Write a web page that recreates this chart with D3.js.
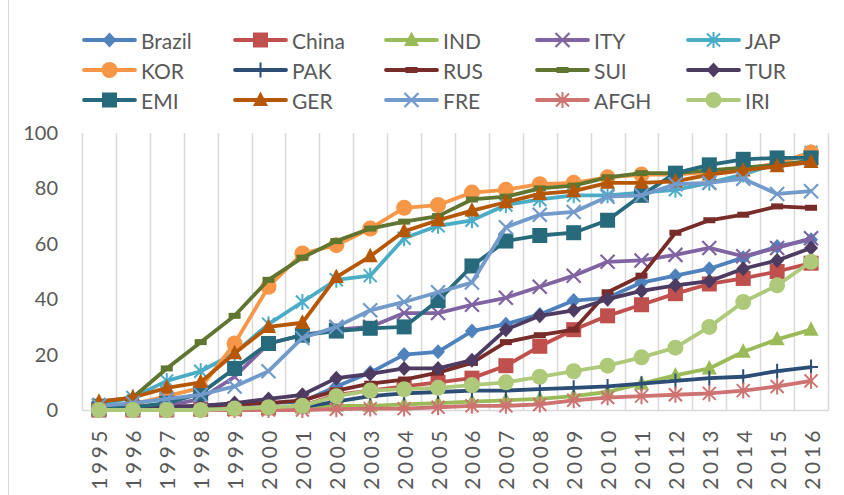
<!DOCTYPE html>
<html>
<head>
<meta charset="utf-8">
<script src="https://cdn.jsdelivr.net/npm/d3@7"></script>
<style>
  body { margin: 0; background: #fff; }
  svg { font-family: Lato, "Open Sans", sans-serif; }
</style>
</head>
<body>
<svg id="chart" width="844" height="495"></svg>
<script>
// Data
const years = ['1995','1996','1997','1998','1999','2000','2001','2002','2003','2004','2005',
               '2006','2007','2008','2009','2010','2011','2012','2013','2014','2015','2016'];
const yTicks = [0, 20, 40, 60, 80, 100];

const brazil = [0.5, 0.5, 1, 1.5, 2, 2.5, 3, 8.5, 13.5, 20, 21, 28.5, 31, 34.5, 39.5, 40.5, 46, 48.5, 51, 55, 59, 61.5];
const china  = [0, 0, 0, 0.3, 0.5, 0.8, 1.5, 5.5, 7, 8.5, 10, 11.5, 16, 23, 29, 34, 38, 42, 45.5, 47.5, 50, 53];
const ind    = [0, 0, 0, 0.5, 0.5, 1, 1, 1.5, 1.5, 2, 2.5, 3, 3.5, 4, 5, 6.5, 9.5, 12.5, 15, 21, 25.5, 29];
const ity    = [0, 0.5, 1.5, 4, 12, 24, 27, 29, 30, 35, 35, 38, 40.5, 44.5, 48.5, 53.5, 54, 56, 58.5, 55.5, 58.5, 62];
const jap    = [2, 4.5, 10.5, 14, 20.5, 31, 39, 47, 48.5, 62, 66.5, 68.5, 74, 76, 77.5, 77.5, 78.5, 79.5, 82, 85, 89, 93];
const kor    = [1, 2, 5, 8, 24, 44.5, 56.5, 59.5, 65.5, 73, 74, 78.5, 79.5, 81.5, 82, 84, 85, 85, 86, 87, 89, 93];
const pak    = [0, 0, 0, 0, 0.5, 0.5, 1, 3, 5, 6, 6.5, 7, 7, 7.5, 8, 8.5, 9.5, 10.5, 11.5, 12, 14, 15.5];
const rus    = [0, 0.5, 1, 1.5, 2, 2.5, 3.5, 7, 9.5, 11, 13.5, 17, 24.5, 27, 29, 42.5, 48.5, 64, 68.5, 70.5, 73.5, 73];
const sui    = [3, 4.5, 15, 24.5, 34, 47, 55, 61, 65.5, 68, 70, 76, 77, 80, 81, 84, 85.5, 85.5, 86.5, 87.5, 88.5, 90];
const tur    = [0, 0.5, 1, 1.5, 2.5, 4, 5.5, 11.5, 13, 15, 15, 18, 29, 34, 36, 40, 43, 45, 46.5, 51, 54, 58.5];
const emi    = [0.5, 1, 2.5, 6, 15, 24, 27, 28.5, 29.5, 30, 39.5, 52, 61, 63, 64, 68.5, 77.5, 85.5, 88.5, 90.5, 91, 91];
const ger    = [3, 4.5, 8, 10, 20.5, 30, 31.5, 48, 55.5, 64.5, 68.5, 72, 75, 78, 79, 82, 82, 82.5, 85, 86.5, 88, 89.5];
const fre    = [1.5, 2.5, 4, 5.5, 8.5, 14, 26, 30, 36, 39, 42.5, 46, 66, 70.5, 71.5, 77, 77.5, 81.5, 82, 83.5, 78, 79];
const afgh   = [0, 0, 0, 0, 0, 0, 0, 0.3, 0.5, 0.5, 1, 1.5, 1.5, 2, 3.5, 4.5, 5, 5.5, 6, 7, 8.5, 10.5];
const iri    = [0, 0, 0, 0, 0.5, 1, 1.5, 5, 7, 7.5, 8, 9, 10, 12, 14, 16, 19, 22.5, 30, 39, 45, 53.5];

const seriesNames = ['Brazil','China','IND','ITY','JAP','KOR','PAK','RUS','SUI','TUR','EMI','GER','FRE','AFGH','IRI'];
const seriesValues = [brazil, china, ind, ity, jap, kor, pak, rus, sui, tur, emi, ger, fre, afgh, iri];
const seriesColors = ['#4F81BD','#C0504D','#9BBB59','#8064A2','#4BACC6','#F79646','#2C4D75','#772C2A',
                      '#5F7530','#4D3B62','#276A7C','#B65708','#729ACA','#CD7371','#AFC97A'];
const seriesMarkers = ['diamond','square','triangle','x','star','circle','plus','dash',
                       'dash','diamond','square','triangle','x','star','circle'];

const series = seriesNames.map((name, i) => ({
    name, values: seriesValues[i], color: seriesColors[i], marker: seriesMarkers[i]
}));

const svg = d3.select('#chart');
const textColor = '#595959';

// Outer chart border (left edge visible)
svg.append('line')
    .attr('x1', 8.5).attr('x2', 8.5).attr('y1', 0).attr('y2', 495)
    .attr('stroke', '#d9d9d9').attr('stroke-width', 1);

// Scales
const xScale = d3.scaleBand().domain(years).range([82, 828]).padding(0);
const yScale = d3.scaleLinear().domain([0, 100]).range([410, 133]);
const xc = d => xScale(d) + xScale.bandwidth() / 2;

// Vertical gridlines at category boundaries
const bounds = years.map(d => xScale(d)).concat([828]);
svg.append('g')
    .selectAll('line')
    .data(bounds)
    .enter()
    .append('line')
    .attr('x1', d => Math.round(d) + 0.5)
    .attr('x2', d => Math.round(d) + 0.5)
    .attr('y1', yScale(100))
    .attr('y2', yScale(0))
    .attr('stroke', '#d9d9d9')
    .attr('stroke-width', 1.5);

// X axis
const xAxis = svg.append('g')
    .attr('transform', `translate(0, ${yScale(0)})`)
    .call(d3.axisBottom(xScale).tickSize(0).tickPadding(0));
xAxis.select('.domain').attr('stroke', '#d9d9d9').attr('stroke-width', 1.5);
xAxis.selectAll('.tick text')
    .attr('transform', 'rotate(-90)')
    .attr('text-anchor', 'end')
    .attr('dominant-baseline', 'central')
    .attr('x', -17)
    .attr('y', 0)
    .attr('dy', 0)
    .attr('fill', textColor)
    .style('font-size', '21px')
    .style('letter-spacing', '3.5px')
    .style('font-family', 'Lato, sans-serif');

// Y axis (labels only)
const yAxis = svg.append('g')
    .attr('transform', 'translate(58, 0)')
    .call(d3.axisLeft(yScale).tickValues(yTicks).tickSize(0).tickPadding(0));
yAxis.select('.domain').remove();
yAxis.selectAll('.tick text')
    .attr('fill', textColor)
    .style('font-size', '20px')
    .style('font-family', 'Lato, sans-serif');

// Marker drawing
function drawMarker(g, type, color) {
    switch (type) {
        case 'diamond':
            g.append('path').attr('d', 'M0,-7.5L7,0L0,7.5L-7,0Z').attr('fill', color);
            break;
        case 'square':
            g.append('rect').attr('x', -7.5).attr('y', -7.5).attr('width', 15).attr('height', 15).attr('fill', color);
            break;
        case 'triangle':
            g.append('path').attr('d', 'M0,-8.5L7.5,6L-7.5,6Z').attr('fill', color);
            break;
        case 'circle':
            g.append('circle').attr('r', 8).attr('fill', color);
            break;
        case 'x':
            g.append('path').attr('d', 'M-7,-7L7,7M-7,7L7,-7')
                .attr('stroke', color).attr('stroke-width', 2.2).attr('fill', 'none');
            break;
        case 'star':
            g.append('path').attr('d', 'M-6.5,-6.5L6.5,6.5M-6.5,6.5L6.5,-6.5M0,-8L0,8')
                .attr('stroke', color).attr('stroke-width', 2).attr('fill', 'none');
            break;
        case 'plus':
            g.append('path').attr('d', 'M0,-7.5L0,7.5M-7,0L7,0')
                .attr('stroke', color).attr('stroke-width', 2).attr('fill', 'none');
            break;
        case 'dash':
            g.append('rect').attr('x', -6).attr('y', -3).attr('width', 12).attr('height', 6)
                .attr('fill', color);
            break;
    }
}

// Lines and markers
const lineGenerator = d3.line()
    .x((d, i) => xc(years[i]))
    .y(d => yScale(d));

const plot = svg.append('g');
series.forEach(s => {
    const g = plot.append('g');
    g.append('path')
        .datum(s.values)
        .attr('fill', 'none')
        .attr('stroke', s.color)
        .attr('stroke-width', 3.8)
        .attr('stroke-linejoin', 'round')
        .attr('stroke-linecap', 'round')
        .attr('d', lineGenerator);
    s.values.forEach((v, i) => {
        const m = g.append('g').attr('transform', `translate(${xc(years[i])}, ${yScale(v)})`);
        drawMarker(m, s.marker, s.color);
    });
});

// Legend: 5 columns, 3 rows
const legend = svg.append('g');
series.forEach((s, i) => {
    const col = i % 5, row = Math.floor(i / 5);
    const x0 = 82 + col * 151, y0 = 40 + row * 30;
    const item = legend.append('g').attr('transform', `translate(${x0}, ${y0})`);
    item.append('line')
        .attr('x1', 2).attr('x2', 53).attr('y1', 0).attr('y2', 0)
        .attr('stroke', s.color).attr('stroke-width', 3.8).attr('stroke-linecap', 'round');
    drawMarker(item.append('g').attr('transform', 'translate(27.5, 0)'), s.marker, s.color);
    item.append('text')
        .attr('x', 59).attr('y', 0)
        .attr('dominant-baseline', 'central')
        .attr('fill', textColor)
        .style('font-size', '21px')
        .text(s.name);
});
</script>
</body>
</html>
